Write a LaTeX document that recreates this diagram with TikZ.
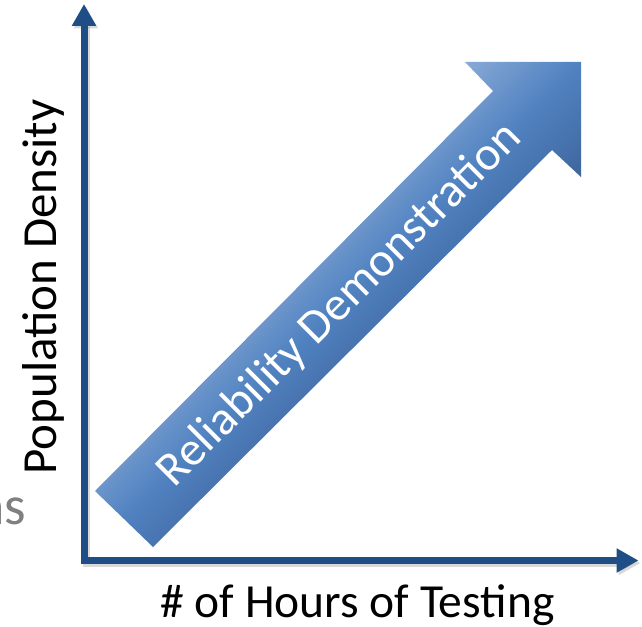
\documentclass[tikz,border=0pt]{standalone}
\usepackage{fontspec}
\setmainfont{Carlito}
\usetikzlibrary{arrows.meta}
\definecolor{axisblue}{RGB}{31,78,135}
\definecolor{arrowlight}{RGB}{160,187,223}
\definecolor{arrowhigh}{RGB}{120,158,208}
\definecolor{arrowmid}{RGB}{80,130,192}
\definecolor{arrowlow}{RGB}{68,110,168}
\definecolor{arrowdark}{RGB}{52,86,134}
\pgfdeclareverticalshading{demoshade}{100bp}{color(0bp)=(arrowdark); color(38bp)=(arrowdark); color(44bp)=(arrowlow); color(50bp)=(arrowmid); color(56bp)=(arrowhigh); color(62bp)=(arrowlight); color(100bp)=(arrowlight)}

\begin{document}
\begin{tikzpicture}[x=1pt,y=-1pt]
\tikzstyle{every node}+=[inner sep=0pt]
\tikzstyle{axis}=[draw=axisblue, line width=7pt, line join=miter, {Triangle[length=22pt,width=23pt]}-{Triangle[length=22pt,width=23pt]}]
\tikzstyle{axisshadow}=[axis, draw=black, opacity=0.15, transform canvas={xshift=2pt,yshift=-2.5pt}]
\tikzstyle{lbl}=[font=\fontsize{48}{48}\selectfont]
\useasboundingbox (0,0) rectangle (642,626);
% cut-off text at the left border
\begin{scope}
\clip (0,0) rectangle (642,626);
\node [lbl, anchor=base east, text=black!50, font=\fontsize{55}{55}\selectfont] (cut) at (26.5,524) {as};
\end{scope}
% axes
\coordinate (origin) at (84,560.5);
\coordinate (ytip) at (84,4);
\coordinate (xtip) at (638.5,560.5);
\draw [axisshadow] (ytip) -- (origin) -- (xtip);
\draw [axis] (ytip) -- (origin) -- (xtip);
% big arrow
\shade [shading=demoshade, shading angle=45] (95,491) -- (493,91) -- (465,62) -- (581,62) -- (581,177) -- (552,150) -- (153,547) -- cycle;
\node [lbl, text=white, rotate=45] (demo) at (339.5,305) {Reliability Demonstration};
% labels
\node [lbl, anchor=base, font=\fontsize{47.5}{47.5}\selectfont] (xlabel) at (357.5,617) {\# of Hours of Testing};
\node [lbl, anchor=base, rotate=90, font=\fontsize{49}{49}\selectfont] (ylabel) at (56,287) {Population Density};
\end{tikzpicture}
\end{document}
